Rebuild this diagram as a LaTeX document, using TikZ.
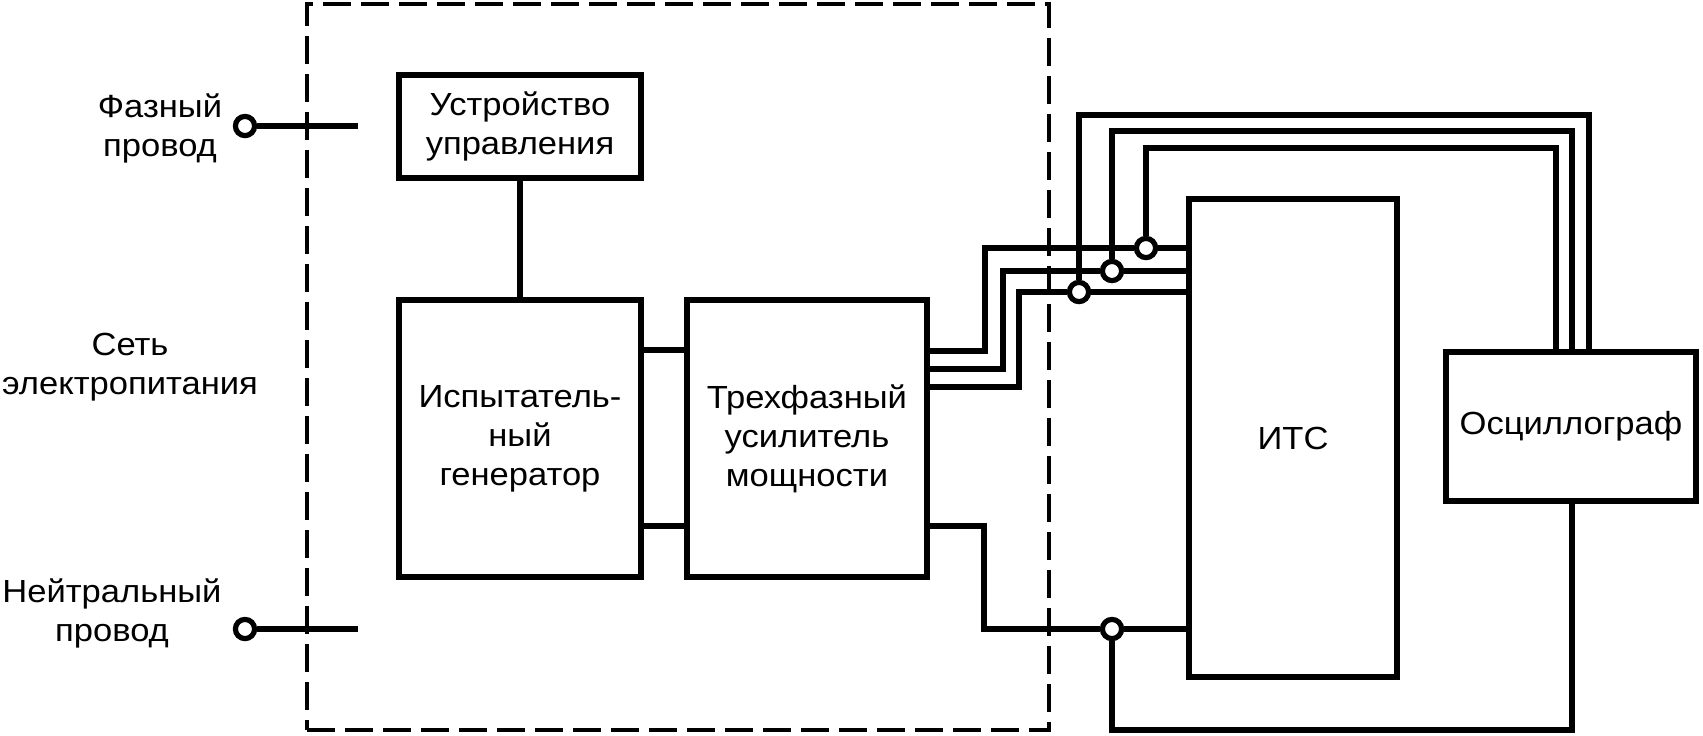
\documentclass[tikz,border=0pt]{standalone}
\usepackage{fontspec}
\setmainfont{Liberation Sans}[FakeStretch=1.08]
\begin{document}
\begin{tikzpicture}[x=0.5pt,y=-0.5pt,
  wire/.style={line width=2.9pt},
  box/.style={draw,line width=2.9pt,rectangle,inner sep=0pt,align=center},
  term/.style={draw,circle,fill=white,line width=2.6pt,minimum size=9.6pt,inner sep=0pt},
  lbl/.style={align=center,inner sep=0pt},
  dashbox/.style={draw,rectangle,inner sep=0pt,line width=2pt,dash pattern=on 14pt off 5pt},
  font=\fontsize{16}{19.5}\selectfont]
\useasboundingbox (0,0) rectangle (1703,735);

% frame
\node[dashbox,minimum width=371pt,minimum height=363pt] (frame) at (678,367) {};

% boxes
\node[box,minimum width=121pt,minimum height=51.5pt] (ctrl) at (520,126.5) {Устройство\\управления};
\node[box,minimum width=121pt,minimum height=138.5pt] (gen) at (520,438.5) {Испытатель-\\ный\\генератор};
\node[box,minimum width=120pt,minimum height=138.5pt] (amp) at (807,438.5) {Трехфазный\\усилитель\\мощности};
\node[box,minimum width=104pt,minimum height=239pt] (its) at (1293,438) {ИТС};
\node[box,minimum width=125pt,minimum height=74.5pt] (osc) at (1571,426.5) {Осциллограф};

% labels
\node[lbl] (lph) at (160,128) {Фазный\\провод};
\node[lbl] (lnet) at (130,367) {Сеть\\электропитания};
\node[lbl] (lneu) at (112,613) {Нейтральный\\провод};

% terminals
\node[term] (ph) at (245,126) {};
\node[term] (ne) at (245,629) {};
\node[term] (cA) at (1146,248) {};
\node[term] (cB) at (1112,271) {};
\node[term] (cC) at (1079,292) {};
\node[term] (cN) at (1112,629) {};

% helper coordinates
\coordinate (phE) at (358,126);
\coordinate (neE) at (358,629);
\coordinate (yA) at (0,351);
\coordinate (yB) at (0,369);
\coordinate (yC) at (0,387);
\coordinate (yN) at (0,526);
\coordinate (y1) at (0,350);
\coordinate (y2) at (0,526);
\coordinate (jA) at (985,248);
\coordinate (jB) at (1003,271);
\coordinate (jC) at (1019,292);
\coordinate (jN) at (984,629);
\coordinate (rA) at (1556,148);
\coordinate (rB) at (1572,131);
\coordinate (rC) at (1589,115);
\coordinate (bN) at (1572,730);

% wires
\draw[wire] (ph) -- (phE);
\draw[wire] (ne) -- (neE);
\draw[wire] (ctrl) -- (gen);
\draw[wire] (gen.east |- y1) -- (amp.west |- y1);
\draw[wire] (gen.east |- y2) -- (amp.west |- y2);

\draw[wire] (amp.east |- yA) -| (jA) -- (cA);
\draw[wire] (amp.east |- yB) -| (jB) -- (cB);
\draw[wire] (amp.east |- yC) -| (jC) -- (cC);
\draw[wire] (cA) -- (its.west |- cA);
\draw[wire] (cB) -- (its.west |- cB);
\draw[wire] (cC) -- (its.west |- cC);
\draw[wire] (cA) |- (rA) -- (osc.north -| rA);
\draw[wire] (cB) |- (rB) -- (osc.north -| rB);
\draw[wire] (cC) |- (rC) -- (osc.north -| rC);

\draw[wire] (amp.east |- yN) -| (jN) -- (cN);
\draw[wire] (cN) -- (its.west |- cN);
\draw[wire] (cN) |- (bN) -- (osc.south -| bN);
\end{tikzpicture}
\end{document}
